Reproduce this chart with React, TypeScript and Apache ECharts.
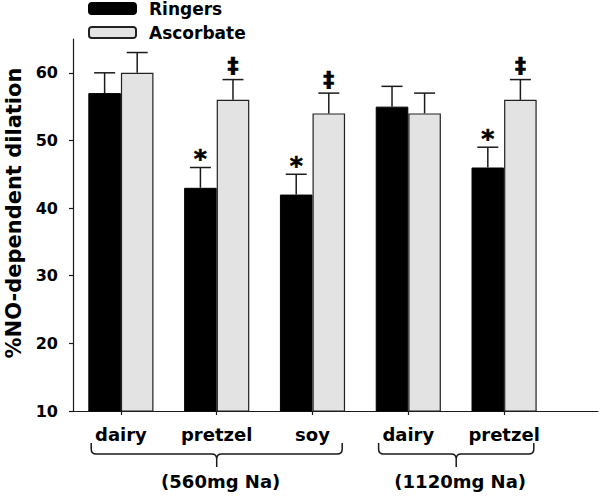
import React, { useEffect, useRef } from "react";
import * as echarts from "echarts";

const categories = ["dairy", "pretzel", "soy", "dairy", "pretzel"];
const ringers = [57, 43, 42, 55, 46];
const ringersErr = [3, 3, 3, 3, 3];
const ascorbate = [60, 56, 54, 54, 56];
const ascorbateErr = [3, 3, 3, 3, 3];
const ringersMarks = ["", "*", "*", "", "*"];
const ascorbateMarks = ["", "‡", "‡", "", "‡"];
const groupLabels = ["(560mg Na)", "(1120mg Na)"];
const groupStart = [0, 3];
const groupEnd = [2, 4];
const yTicks = [10, 20, 30, 40, 50, 60];

const FONT = "DejaVu Sans";
const BAR_FRAC = 0.34;
const INK = "#1a1a1a";

function errorRender(sign: number, marks: string[], markSize: number, markLift: number) {
  return (params: any, api: any) => {
    const i = api.value(0);
    const v = api.value(1);
    const e = api.value(2);
    const band = api.size([1, 0])[0];
    const base = api.coord([i, v]);
    const top = api.coord([i, v + e]);
    const x = base[0] + (sign * band * BAR_FRAC) / 2;
    const cap = 10.5;
    const children: any[] = [
      { type: "line", shape: { x1: x, y1: base[1], x2: x, y2: top[1] }, style: { stroke: INK, lineWidth: 1.5 } },
      { type: "line", shape: { x1: x - cap, y1: top[1], x2: x + cap, y2: top[1] }, style: { stroke: INK, lineWidth: 1.5 } },
    ];
    const m = marks[params.dataIndex];
    if (m) {
      children.push({
        type: "text",
        style: {
          text: m,
          x: x,
          y: top[1] - markLift,
          align: "center",
          verticalAlign: "middle",
          font: `bold ${markSize}px '${FONT}'`,
          fill: "#000",
          stroke: "#000",
          lineWidth: 0.6,
        },
      });
    }
    return { type: "group", children };
  };
}

export default function App() {
  const ref = useRef<HTMLDivElement>(null);
  useEffect(() => {
    document.body.style.margin = "0";
    const chart = echarts.init(ref.current!, null, { renderer: "svg" });
    const option: any = {
      animation: false,
      backgroundColor: "#fff",
      legend: {
        orient: "vertical",
        left: 88,
        top: 0,
        padding: 0,
        itemWidth: 47,
        itemHeight: 11,
        itemGap: 7,
        data: ["Ringers", "Ascorbate"],
        textStyle: { fontFamily: FONT, fontWeight: "bold", fontSize: 17, color: "#000", padding: [0, 0, 0, 8] },
      },
      grid: [
        { left: 73, right: 48, top: 39, bottom: 87, outerBoundsMode: "none", containLabel: false },
        { left: 73, right: 2, top: 39, bottom: 87, outerBoundsMode: "none", containLabel: false },
      ],
      xAxis: [
        {
          type: "category",
          gridIndex: 0,
          data: categories,
          axisLine: { show: false },
          axisTick: { show: true, alignWithLabel: true, length: 4, lineStyle: { color: INK, width: 1.2 } },
          axisLabel: { color: "#000", fontFamily: FONT, fontWeight: "bold", fontSize: 18, margin: 14 },
        },
        {
          type: "value",
          gridIndex: 1,
          min: 0,
          max: 1,
          axisLine: { show: true, lineStyle: { color: INK, width: 1.2 } },
          axisTick: { show: false },
          axisLabel: { show: false },
          splitLine: { show: false },
        },
      ],
      yAxis: [
        {
          type: "value",
          gridIndex: 0,
          min: 10,
          max: 65,
          interval: 10,
          name: "%NO-dependent dilation",
          nameLocation: "middle",
          nameGap: 48,
          nameTextStyle: { fontFamily: FONT, fontWeight: "bold", fontSize: 21, color: "#000", padding: [0, 0, 0, 24] },
          axisLine: { show: true, lineStyle: { color: INK, width: 1.2 } },
          axisTick: { show: true, length: 4, customValues: yTicks, lineStyle: { color: INK, width: 1.2 } },
          axisLabel: { customValues: yTicks, color: "#000", fontFamily: FONT, fontWeight: "bold", fontSize: 16, margin: 15 },
          splitLine: { show: false },
        },
        { type: "value", gridIndex: 1, show: false, min: 0, max: 1 },
      ],
      series: [
        {
          name: "Ringers",
          type: "bar",
          data: ringers,
          barWidth: `${BAR_FRAC * 100}%`,
          barGap: "0%",
          itemStyle: { color: "#000", borderColor: "#000", borderWidth: 1 },
          z: 2,
        },
        {
          name: "Ascorbate",
          type: "bar",
          data: ascorbate,
          barWidth: `${BAR_FRAC * 100}%`,
          barGap: "0%",
          itemStyle: { color: "#e3e3e3", borderColor: "#222", borderWidth: 1.2 },
          z: 2,
        },
        {
          type: "custom",
          name: "RingersErr",
          data: ringers.map((v, i) => [i, v, ringersErr[i]]),
          renderItem: errorRender(-1, ringersMarks, 25, 9),
          z: 3,
          clip: false,
        },
        {
          type: "custom",
          name: "AscorbateErr",
          data: ascorbate.map((v, i) => [i, v, ascorbateErr[i]]),
          renderItem: errorRender(1, ascorbateMarks, 22, 14),
          z: 3,
          clip: false,
        },
        {
          type: "custom",
          name: "Groups",
          clip: false,
          silent: true,
          data: groupStart.map((s, i) => [s, 10, groupEnd[i]]),
          renderItem: (params: any, api: any) => {
            const s = api.value(0);
            const e = api.value(2);
            const band = api.size([1, 0])[0];
            const pad = band * 0.31;
            const ps = api.coord([s, 10]);
            const pe = api.coord([e, 10]);
            const x0 = ps[0] - pad;
            const x1 = pe[0] + pad;
            const ay = ps[1];
            const xm = (x0 + x1) / 2;
            const top = ay + 32;
            const h = ay + 43;
            const stem = ay + 56;
            const r = 5;
            const d =
              `M${x0} ${top} L${x0} ${h - r} Q${x0} ${h} ${x0 + r} ${h} L${xm - r} ${h} Q${xm} ${h} ${xm} ${h + r} L${xm} ${stem} ` +
              `M${x1} ${top} L${x1} ${h - r} Q${x1} ${h} ${x1 - r} ${h} L${xm + r} ${h} Q${xm} ${h} ${xm} ${h + r}`;
            return {
              type: "group",
              children: [
                { type: "path", shape: { pathData: d }, style: { stroke: INK, lineWidth: 1.5, fill: "none" } },
                {
                  type: "text",
                  style: {
                    text: groupLabels[params.dataIndex],
                    x: xm + 4,
                    y: ay + 70,
                    align: "center",
                    verticalAlign: "middle",
                    font: `bold 18px '${FONT}'`,
                    fill: "#000",
                  },
                },
              ],
            };
          },
        },
      ],
    };
    chart.setOption(option);
    return () => chart.dispose();
  }, []);
  return <div ref={ref} style={{ width: 600, height: 498 }} />;
}
